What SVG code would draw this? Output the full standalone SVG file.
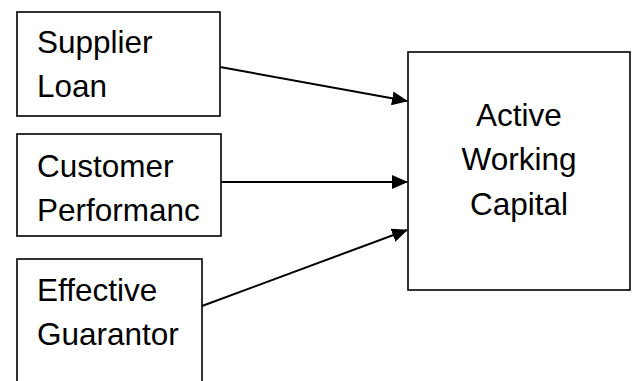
<svg xmlns="http://www.w3.org/2000/svg" width="634" height="381" viewBox="0 0 634 381">
<style>
.box{fill:#fff;stroke:#000;stroke-width:1.6}
.t{font-family:"Liberation Sans",Arial,Helvetica,sans-serif;font-size:31.5px;fill:#000}
.c{text-anchor:middle}
.e{stroke:#000;stroke-width:2;fill:none}
</style>
<defs>
<marker id="ah" markerWidth="16" markerHeight="14" refX="15" refY="7" orient="auto" markerUnits="userSpaceOnUse">
<path d="M0,0 L16,7 L0,14 Z" fill="#000"/>
</marker>
</defs>
<rect width="634" height="381" fill="#fff"/>
<g id="supplier">
<rect class="box" x="17" y="12" width="203" height="104"/>
<text class="t" x="37" y="53">Supplier</text>
<text class="t" x="37" y="97">Loan</text>
</g>
<g id="customer">
<rect class="box" x="17" y="134" width="204" height="102"/>
<text class="t" x="37" y="177">Customer</text>
<text class="t" x="37" y="221">Performanc</text>
</g>
<g id="guarantor">
<rect class="box" x="17" y="259" width="185" height="140"/>
<text class="t" x="37" y="301">Effective</text>
<text class="t" x="37" y="345">Guarantor</text>
</g>
<g id="capital">
<rect class="box" x="408" y="52" width="222" height="238"/>
<text class="t c" x="519" y="126">Active</text>
<text class="t c" x="519" y="170">Working</text>
<text class="t c" x="519" y="215">Capital</text>
</g>
<g id="connectors">
<line class="e" x1="220" y1="67" x2="407" y2="101" marker-end="url(#ah)"/>
<line class="e" x1="221" y1="182" x2="407" y2="182" marker-end="url(#ah)"/>
<line class="e" x1="202" y1="306" x2="407" y2="230" marker-end="url(#ah)"/>
</g>
</svg>
